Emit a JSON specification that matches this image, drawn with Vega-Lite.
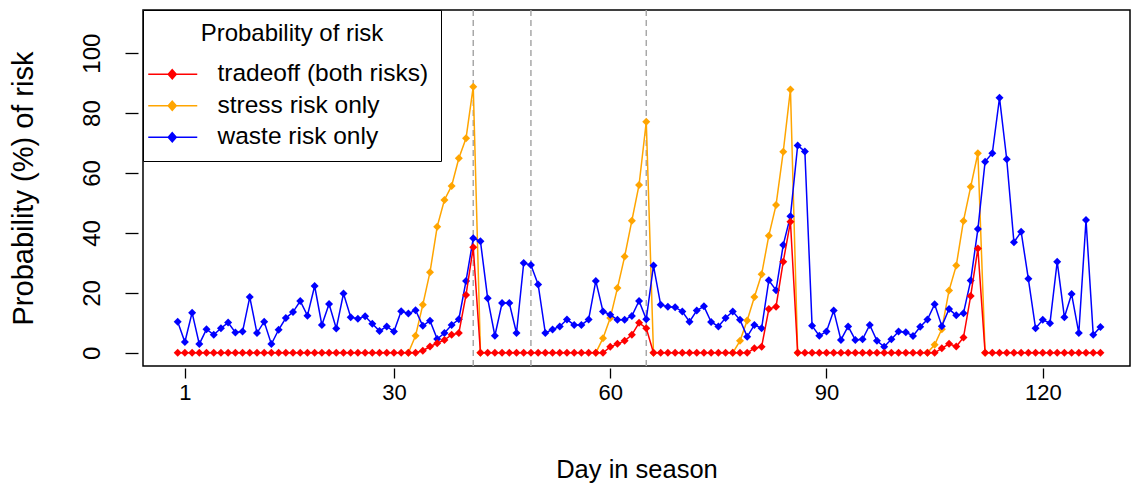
{
  "$schema": "https://vega.github.io/schema/vega-lite/v6.json",
  "width": 987,
  "height": 356,
  "autosize": "none",
  "padding": {"left": 143, "top": 10, "right": 2, "bottom": 117},
  "background": "white",
  "config": {
    "view": {"stroke": "black", "strokeWidth": 1.5},
    "font": "Liberation Sans",
    "axis": {"grid": false, "labelColor": "black", "titleColor": "black", "tickColor": "black", "tickWidth": 1.3, "titleFontWeight": "normal"}
  },
  "datasets": {
    "vlines": [{"d": 41}, {"d": 49}, {"d": 65}],
    "stress": [
      {"d": 32, "p": 0, "run": 1}, {"d": 33, "p": 5.7, "run": 1}, {"d": 34, "p": 16.0, "run": 1}, {"d": 35, "p": 26.9, "run": 1}, {"d": 36, "p": 42.1, "run": 1}, {"d": 37, "p": 51.0, "run": 1}, {"d": 38, "p": 55.7, "run": 1}, {"d": 39, "p": 64.9, "run": 1}, {"d": 40, "p": 71.6, "run": 1}, {"d": 41, "p": 88.8, "run": 1}, {"d": 42, "p": 0, "run": 1},
      {"d": 58, "p": 0, "run": 2}, {"d": 59, "p": 4.9, "run": 2}, {"d": 60, "p": 11.6, "run": 2}, {"d": 61, "p": 21.6, "run": 2}, {"d": 62, "p": 32.1, "run": 2}, {"d": 63, "p": 44.1, "run": 2}, {"d": 64, "p": 56.0, "run": 2}, {"d": 65, "p": 77.1, "run": 2}, {"d": 66, "p": 0, "run": 2},
      {"d": 77, "p": 0, "run": 3}, {"d": 78, "p": 4.0, "run": 3}, {"d": 79, "p": 10.8, "run": 3}, {"d": 80, "p": 18.6, "run": 3}, {"d": 81, "p": 26.2, "run": 3}, {"d": 82, "p": 39.1, "run": 3}, {"d": 83, "p": 49.3, "run": 3}, {"d": 84, "p": 67.1, "run": 3}, {"d": 85, "p": 87.9, "run": 3}, {"d": 86, "p": 0, "run": 3},
      {"d": 104, "p": 0, "run": 4}, {"d": 105, "p": 2.7, "run": 4}, {"d": 106, "p": 7.9, "run": 4}, {"d": 107, "p": 20.8, "run": 4}, {"d": 108, "p": 29.1, "run": 4}, {"d": 109, "p": 44.0, "run": 4}, {"d": 110, "p": 55.4, "run": 4}, {"d": 111, "p": 66.6, "run": 4}, {"d": 112, "p": 0, "run": 4}
    ],
    "waste": [
      {"d": 0, "p": 10.4}, {"d": 1, "p": 3.6}, {"d": 2, "p": 13.4}, {"d": 3, "p": 2.9}, {"d": 4, "p": 7.9}, {"d": 5, "p": 6.0}, {"d": 6, "p": 8.2}, {"d": 7, "p": 10.1}, {"d": 8, "p": 6.8}, {"d": 9, "p": 7.1},
      {"d": 10, "p": 18.6}, {"d": 11, "p": 6.6}, {"d": 12, "p": 10.4}, {"d": 13, "p": 2.9}, {"d": 14, "p": 7.7}, {"d": 15, "p": 11.6}, {"d": 16, "p": 13.6}, {"d": 17, "p": 17.3}, {"d": 18, "p": 12.4}, {"d": 19, "p": 22.3},
      {"d": 20, "p": 9.3}, {"d": 21, "p": 16.3}, {"d": 22, "p": 8.1}, {"d": 23, "p": 19.8}, {"d": 24, "p": 11.9}, {"d": 25, "p": 11.4}, {"d": 26, "p": 12.2}, {"d": 27, "p": 9.7}, {"d": 28, "p": 7.3}, {"d": 29, "p": 8.8},
      {"d": 30, "p": 7.1}, {"d": 31, "p": 13.9}, {"d": 32, "p": 13.1}, {"d": 33, "p": 14.2}, {"d": 34, "p": 9.0}, {"d": 35, "p": 10.7}, {"d": 36, "p": 4.6}, {"d": 37, "p": 6.6}, {"d": 38, "p": 9.3}, {"d": 39, "p": 11.2},
      {"d": 40, "p": 24.0}, {"d": 41, "p": 38.2}, {"d": 42, "p": 37.2}, {"d": 43, "p": 18.2}, {"d": 44, "p": 5.7}, {"d": 45, "p": 16.6}, {"d": 46, "p": 16.6}, {"d": 47, "p": 6.6}, {"d": 48, "p": 30.0}, {"d": 49, "p": 29.3},
      {"d": 50, "p": 22.8}, {"d": 51, "p": 6.6}, {"d": 52, "p": 7.8}, {"d": 53, "p": 8.8}, {"d": 54, "p": 11.1}, {"d": 55, "p": 9.3}, {"d": 56, "p": 9.3}, {"d": 57, "p": 11.1}, {"d": 58, "p": 24.0}, {"d": 59, "p": 13.8},
      {"d": 60, "p": 12.7}, {"d": 61, "p": 11.0}, {"d": 62, "p": 11.0}, {"d": 63, "p": 12.3}, {"d": 64, "p": 17.3}, {"d": 65, "p": 11.2}, {"d": 66, "p": 29.1}, {"d": 67, "p": 16.0}, {"d": 68, "p": 15.4}, {"d": 69, "p": 15.2},
      {"d": 70, "p": 13.8}, {"d": 71, "p": 10.4}, {"d": 72, "p": 14.1}, {"d": 73, "p": 15.5}, {"d": 74, "p": 10.3}, {"d": 75, "p": 8.8}, {"d": 76, "p": 11.6}, {"d": 77, "p": 13.8}, {"d": 78, "p": 11.0}, {"d": 79, "p": 5.4},
      {"d": 80, "p": 9.3}, {"d": 81, "p": 8.2}, {"d": 82, "p": 24.2}, {"d": 83, "p": 20.9}, {"d": 84, "p": 36.0}, {"d": 85, "p": 45.6}, {"d": 86, "p": 69.2}, {"d": 87, "p": 67.2}, {"d": 88, "p": 9.0}, {"d": 89, "p": 5.7},
      {"d": 90, "p": 7.1}, {"d": 91, "p": 14.1}, {"d": 92, "p": 4.3}, {"d": 93, "p": 8.8}, {"d": 94, "p": 4.3}, {"d": 95, "p": 4.5}, {"d": 96, "p": 9.3}, {"d": 97, "p": 4.0}, {"d": 98, "p": 2.0}, {"d": 99, "p": 4.5},
      {"d": 100, "p": 7.1}, {"d": 101, "p": 6.9}, {"d": 102, "p": 5.6}, {"d": 103, "p": 8.7}, {"d": 104, "p": 11.1}, {"d": 105, "p": 16.2}, {"d": 106, "p": 8.9}, {"d": 107, "p": 14.6}, {"d": 108, "p": 12.5}, {"d": 109, "p": 13.2},
      {"d": 110, "p": 24.1}, {"d": 111, "p": 41.3}, {"d": 112, "p": 63.8}, {"d": 113, "p": 66.6}, {"d": 114, "p": 85.1}, {"d": 115, "p": 64.6}, {"d": 116, "p": 36.9}, {"d": 117, "p": 40.4}, {"d": 118, "p": 24.7}, {"d": 119, "p": 8.2},
      {"d": 120, "p": 11.0}, {"d": 121, "p": 9.9}, {"d": 122, "p": 30.4}, {"d": 123, "p": 11.9}, {"d": 124, "p": 19.6}, {"d": 125, "p": 6.6}, {"d": 126, "p": 44.3}, {"d": 127, "p": 6.0}, {"d": 128, "p": 8.6}
    ],
    "tradeoff": [
      {"d": 0, "p": 0}, {"d": 1, "p": 0}, {"d": 2, "p": 0}, {"d": 3, "p": 0}, {"d": 4, "p": 0}, {"d": 5, "p": 0}, {"d": 6, "p": 0}, {"d": 7, "p": 0}, {"d": 8, "p": 0}, {"d": 9, "p": 0},
      {"d": 10, "p": 0}, {"d": 11, "p": 0}, {"d": 12, "p": 0}, {"d": 13, "p": 0}, {"d": 14, "p": 0}, {"d": 15, "p": 0}, {"d": 16, "p": 0}, {"d": 17, "p": 0}, {"d": 18, "p": 0}, {"d": 19, "p": 0},
      {"d": 20, "p": 0}, {"d": 21, "p": 0}, {"d": 22, "p": 0}, {"d": 23, "p": 0}, {"d": 24, "p": 0}, {"d": 25, "p": 0}, {"d": 26, "p": 0}, {"d": 27, "p": 0}, {"d": 28, "p": 0}, {"d": 29, "p": 0},
      {"d": 30, "p": 0}, {"d": 31, "p": 0}, {"d": 32, "p": 0}, {"d": 33, "p": 0}, {"d": 34, "p": 0.7}, {"d": 35, "p": 2.1}, {"d": 36, "p": 3.2}, {"d": 37, "p": 4.3}, {"d": 38, "p": 6.0}, {"d": 39, "p": 6.6},
      {"d": 40, "p": 19.3}, {"d": 41, "p": 35.2}, {"d": 42, "p": 0}, {"d": 43, "p": 0}, {"d": 44, "p": 0}, {"d": 45, "p": 0}, {"d": 46, "p": 0}, {"d": 47, "p": 0}, {"d": 48, "p": 0}, {"d": 49, "p": 0},
      {"d": 50, "p": 0}, {"d": 51, "p": 0}, {"d": 52, "p": 0}, {"d": 53, "p": 0}, {"d": 54, "p": 0}, {"d": 55, "p": 0}, {"d": 56, "p": 0}, {"d": 57, "p": 0}, {"d": 58, "p": 0}, {"d": 59, "p": 0},
      {"d": 60, "p": 2.0}, {"d": 61, "p": 3.0}, {"d": 62, "p": 4.0}, {"d": 63, "p": 6.0}, {"d": 64, "p": 10.0}, {"d": 65, "p": 8.2}, {"d": 66, "p": 0}, {"d": 67, "p": 0}, {"d": 68, "p": 0}, {"d": 69, "p": 0},
      {"d": 70, "p": 0}, {"d": 71, "p": 0}, {"d": 72, "p": 0}, {"d": 73, "p": 0}, {"d": 74, "p": 0}, {"d": 75, "p": 0}, {"d": 76, "p": 0}, {"d": 77, "p": 0}, {"d": 78, "p": 0}, {"d": 79, "p": 0},
      {"d": 80, "p": 1.5}, {"d": 81, "p": 2.0}, {"d": 82, "p": 14.6}, {"d": 83, "p": 15.4}, {"d": 84, "p": 30.4}, {"d": 85, "p": 43.7}, {"d": 86, "p": 0}, {"d": 87, "p": 0}, {"d": 88, "p": 0}, {"d": 89, "p": 0},
      {"d": 90, "p": 0}, {"d": 91, "p": 0}, {"d": 92, "p": 0}, {"d": 93, "p": 0}, {"d": 94, "p": 0}, {"d": 95, "p": 0}, {"d": 96, "p": 0}, {"d": 97, "p": 0}, {"d": 98, "p": 0}, {"d": 99, "p": 0},
      {"d": 100, "p": 0}, {"d": 101, "p": 0}, {"d": 102, "p": 0}, {"d": 103, "p": 0}, {"d": 104, "p": 0}, {"d": 105, "p": 0}, {"d": 106, "p": 1.5}, {"d": 107, "p": 3.0}, {"d": 108, "p": 2.1}, {"d": 109, "p": 5.1},
      {"d": 110, "p": 19.0}, {"d": 111, "p": 34.8}, {"d": 112, "p": 0}, {"d": 113, "p": 0}, {"d": 114, "p": 0}, {"d": 115, "p": 0}, {"d": 116, "p": 0}, {"d": 117, "p": 0}, {"d": 118, "p": 0}, {"d": 119, "p": 0},
      {"d": 120, "p": 0}, {"d": 121, "p": 0}, {"d": 122, "p": 0}, {"d": 123, "p": 0}, {"d": 124, "p": 0}, {"d": 125, "p": 0}, {"d": 126, "p": 0}, {"d": 127, "p": 0}, {"d": 128, "p": 0}
    ]
  },
  "encoding": {
    "x": {
      "field": "d", "type": "quantitative",
      "scale": {"domain": [-4.81, 132.1], "nice": false, "zero": false},
      "axis": {"values": [1, 30, 60, 90, 120], "title": "Day in season", "domain": false, "offset": 2, "tickSize": 10, "labelPadding": 4, "labelFontSize": 22, "titleFontSize": 25.5, "titleX": 493.5, "titleY": 101, "titleBaseline": "middle", "titleAlign": "center", "labelFlush": false}
    },
    "y": {
      "field": "p", "type": "quantitative",
      "scale": {"domain": [-4.4, 114.4], "nice": false, "zero": false},
      "axis": {"values": [0, 20, 40, 60, 80, 100], "title": "Probability (%) of risk", "domain": false, "offset": 5, "tickSize": 13, "labelAngle": -90, "labelAlign": "center", "labelBaseline": "bottom", "labelPadding": 21, "labelFontSize": 24, "titleFontSize": 29, "titleAngle": -90, "titleX": -115, "titleY": 178, "titleBaseline": "middle", "titleAlign": "center", "labelFlush": false, "titleLimit": 600}
    }
  },
  "layer": [
    {
      "data": {"name": "vlines"},
      "mark": {"type": "rule", "strokeDash": [6, 4], "color": "#A8A8A8", "strokeWidth": 1.5},
      "encoding": {"x": {"field": "d", "type": "quantitative"}, "y": null}
    },
    {
      "data": {"name": "stress"},
      "mark": {"type": "line", "strokeWidth": 1.5},
      "encoding": {
        "detail": {"field": "run", "type": "nominal"},
        "color": {
          "datum": "stress risk only", "type": "nominal",
          "scale": {"domain": ["tradeoff (both risks)", "stress risk only", "waste risk only"], "range": ["#FF0000", "#FFA500", "#0000FF"]},
          "legend": {
            "title": "Probability of risk", "orient": "top-left", "offset": 0,
            "strokeColor": "black", "fillColor": "white", "padding": 12,
            "titleFontSize": 24, "titleFontWeight": "normal", "titleColor": "black", "titleAnchor": "middle", "titleAlign": "center", "titlePadding": 16, "titleLimit": 600,
            "labelFontSize": 24.5, "labelColor": "black", "labelOffset": 38, "labelLimit": 400,
            "symbolType": "M-3.8,0L6.0,0M1.0,-0.9L1.8,0L1.0,0.9L0.2,0Z",
            "symbolSize": 100, "symbolStrokeWidth": 1.5, "rowPadding": 6.5,
            "encode": {"symbols": {"update": {"fill": {"scale": "color", "field": "value"}, "stroke": {"scale": "color", "field": "value"}, "opacity": {"value": 1}, "fillOpacity": {"value": 1}}}}
          }
        }
      }
    },
    {
      "data": {"name": "stress"},
      "mark": {"type": "point", "shape": "diamond", "filled": true, "size": 64, "opacity": 1},
      "encoding": {"color": {"datum": "stress risk only", "type": "nominal"}}
    },
    {
      "data": {"name": "waste"},
      "mark": {"type": "line", "strokeWidth": 1.5},
      "encoding": {"color": {"datum": "waste risk only", "type": "nominal"}}
    },
    {
      "data": {"name": "waste"},
      "mark": {"type": "point", "shape": "diamond", "filled": true, "size": 64, "opacity": 1},
      "encoding": {"color": {"datum": "waste risk only", "type": "nominal"}}
    },
    {
      "data": {"name": "tradeoff"},
      "mark": {"type": "line", "strokeWidth": 1.5},
      "encoding": {"color": {"datum": "tradeoff (both risks)", "type": "nominal"}}
    },
    {
      "data": {"name": "tradeoff"},
      "mark": {"type": "point", "shape": "diamond", "filled": true, "size": 64, "opacity": 1},
      "encoding": {"color": {"datum": "tradeoff (both risks)", "type": "nominal"}}
    }
  ]
}
